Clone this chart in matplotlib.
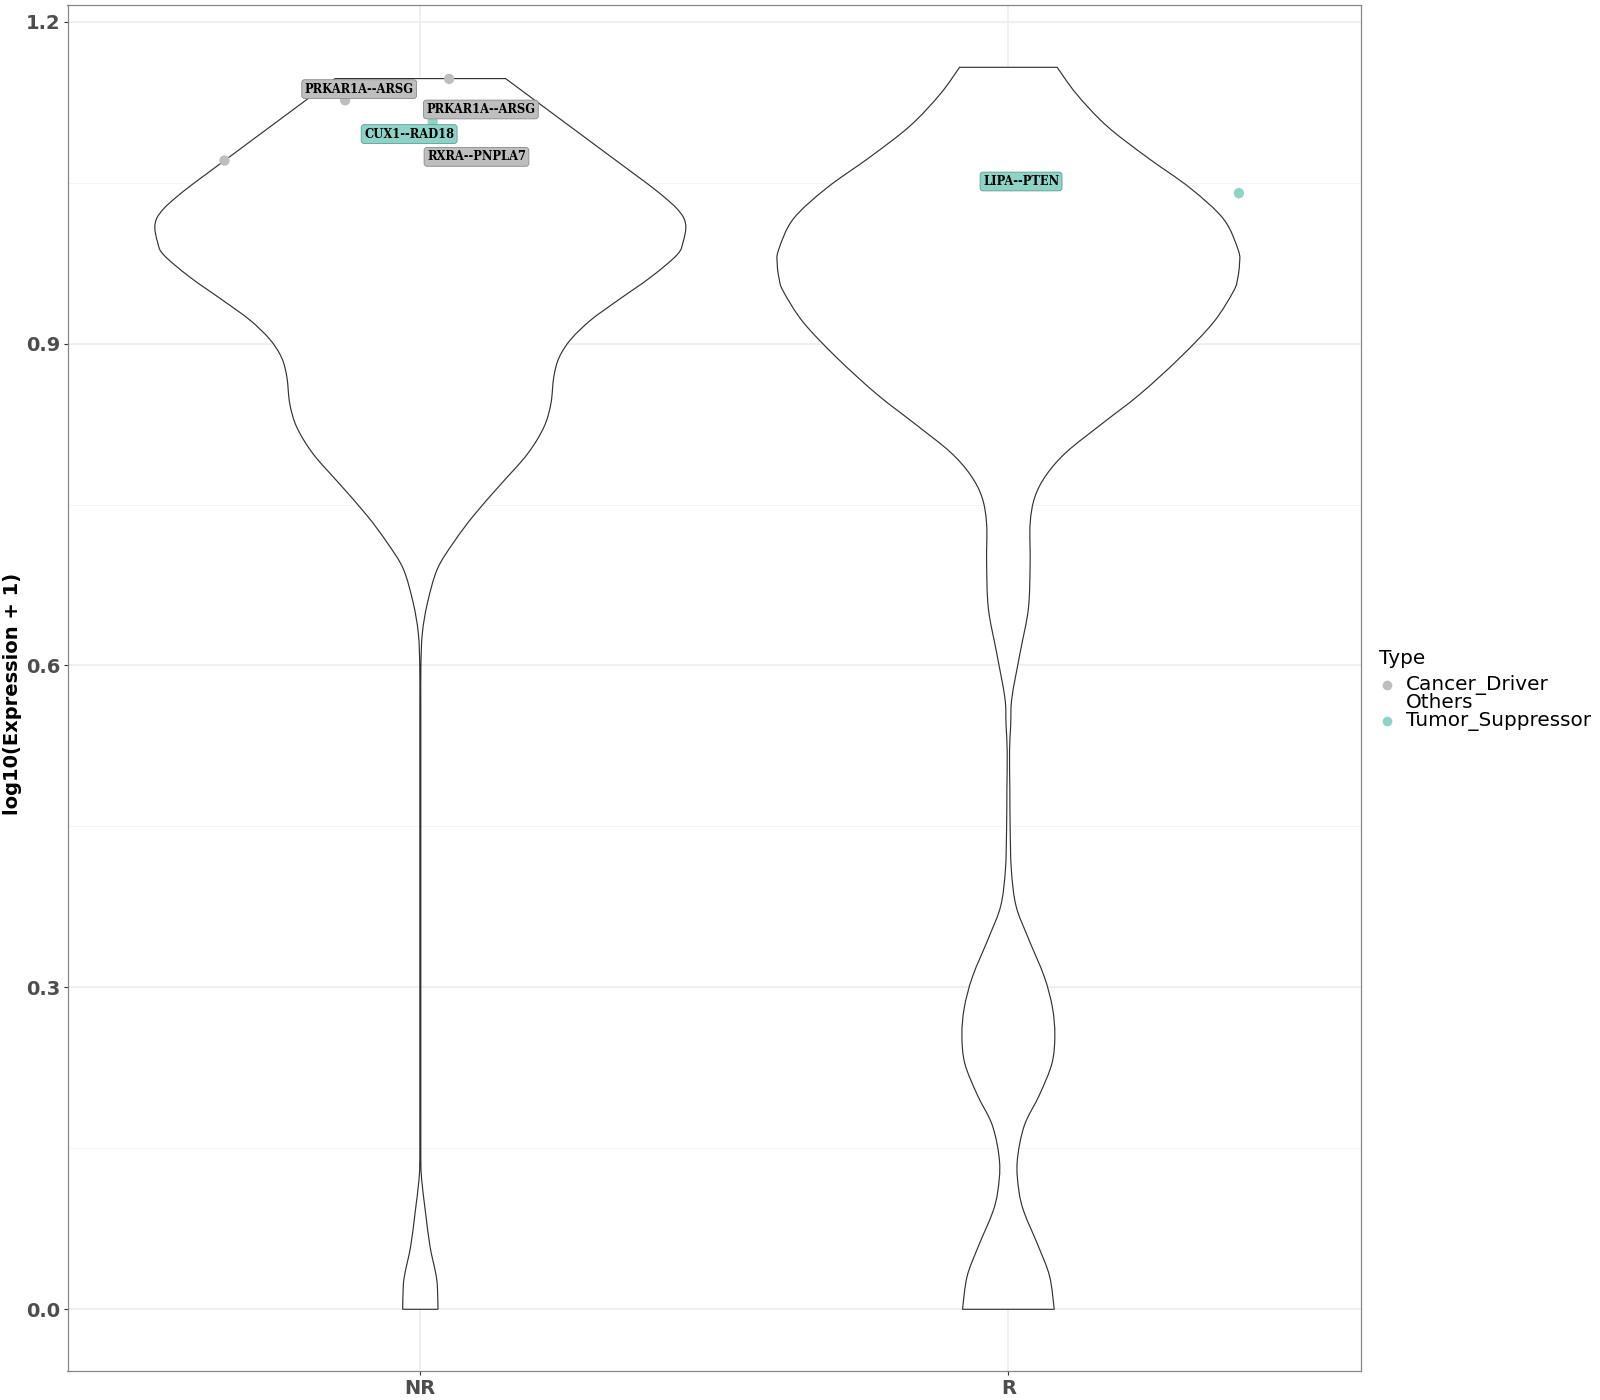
import numpy as np
import matplotlib
matplotlib.use("Agg")
import matplotlib.pyplot as plt
from matplotlib.lines import Line2D
from matplotlib.path import Path
from matplotlib.patches import PathPatch

# ---------------- data ----------------
groups = ["NR", "R"]
group_pos = [1, 2]

# violin outline profiles: (value, half-width)
nr_y = [0.000, 0.0215, 0.034, 0.0585, 0.0895, 0.1205, 0.136, 0.150, 0.200, 0.300,
        0.400, 0.500, 0.560, 0.600, 0.630, 0.658, 0.690, 0.715, 0.740, 0.769,
        0.797, 0.822, 0.844, 0.869, 0.887, 0.904, 0.922, 0.940, 0.962, 0.983,
        0.995, 1.008, 1.017, 1.026, 1.036, 1.047, 1.058, 1.071, 1.109, 1.147]
nr_w = [0.030, 0.029, 0.026, 0.0165, 0.009, 0.0023, 0.001, 0.0008, 0.0008, 0.0008,
        0.0008, 0.0008, 0.0008, 0.0010, 0.0034, 0.012, 0.029, 0.057, 0.091, 0.137,
        0.182, 0.210, 0.222, 0.227, 0.236, 0.256, 0.290, 0.335, 0.392, 0.437,
        0.447, 0.4515, 0.448, 0.436, 0.416, 0.391, 0.364, 0.332, 0.2385, 0.145]

r_y = [0.000, 0.031, 0.060, 0.090, 0.110, 0.1375, 0.171, 0.200, 0.229, 0.255,
       0.281, 0.310, 0.347, 0.376, 0.410, 0.450, 0.485, 0.520, 0.545, 0.570,
       0.612, 0.653, 0.695, 0.732, 0.757, 0.778, 0.799, 0.824, 0.853, 0.887,
       0.920, 0.949, 0.961, 0.974, 0.987, 1.016, 1.045, 1.074, 1.103, 1.1325, 1.1575]
r_w = [0.078, 0.070, 0.050, 0.027, 0.018, 0.015, 0.027, 0.053, 0.074, 0.079,
       0.075, 0.061, 0.033, 0.013, 0.005, 0.003, 0.0025, 0.002, 0.004, 0.006,
       0.020, 0.034, 0.037, 0.037, 0.045, 0.065, 0.099, 0.156, 0.224, 0.292,
       0.349, 0.383, 0.390, 0.393, 0.391, 0.366, 0.309, 0.235, 0.167, 0.116, 0.083]

# highlighted points (jittered x, value, type)
pt_x = [0.667, 0.872, 1.049, 1.021, 2.392]
pt_y = [1.0706, 1.1267, 1.1467, 1.1068, 1.0402]
pt_type = ["Cancer_Driver", "Cancer_Driver", "Cancer_Driver", "Tumor_Suppressor", "Tumor_Suppressor"]

# labels (repelled positions)
lab_text = ["PRKAR1A--ARSG", "PRKAR1A--ARSG", "CUX1--RAD18", "RXRA--PNPLA7", "LIPA--PTEN"]
lab_x = [0.896, 1.103, 0.981, 1.0955, 2.0216]
lab_y = [1.1372, 1.1182, 1.0953, 1.074, 1.0511]
lab_type = ["Cancer_Driver", "Cancer_Driver", "Tumor_Suppressor", "Cancer_Driver", "Tumor_Suppressor"]

legend_types = ["Cancer_Driver", "Others", "Tumor_Suppressor"]
y_ticks = [0.0, 0.3, 0.6, 0.9, 1.2]
y_ticklabels = ["0.0", "0.3", "0.6", "0.9", "1.2"]

colors = {"Cancer_Driver": "#BEBEBE", "Others": "none", "Tumor_Suppressor": "#8DD3C7"}
edge_colors = {"Cancer_Driver": "#8A8A8A", "Tumor_Suppressor": "#5E9C8F"}


def smooth_side(px, py):
    """Bezier (Catmull-Rom) path pieces through the given outline points."""
    pts = np.column_stack([px, py])
    verts, codes = [], []
    n = len(pts)
    for i in range(n - 1):
        p0 = pts[i - 1] if i > 0 else pts[i]
        p1 = pts[i]
        p2 = pts[i + 1]
        p3 = pts[i + 2] if i + 2 < n else pts[i + 1]
        c1 = p1 + (p2 - p0) / 6.0
        c2 = p2 - (p3 - p1) / 6.0
        verts += [c1, c2, p2]
        codes += [Path.CURVE4] * 3
    return verts, codes


# ---------------- figure ----------------
fig = plt.figure(figsize=(16, 14), dpi=100)
ax = fig.add_axes([67.5 / 1600, 1 - 1371.3 / 1400, (1361.2 - 67.5) / 1600, (1371.3 - 5.3) / 1400])

ax.set_xlim(0.4, 2.6)
ax.set_ylim(-0.0578, 1.2153)

# grid
for yv in np.arange(0, 1.21, 0.3):
    ax.axhline(yv, color="#EBEBEB", lw=1.1, zorder=0)
for yv in np.arange(0.15, 1.21, 0.3):
    ax.axhline(yv, color="#F2F2F2", lw=0.6, zorder=0)
for xv in group_pos:
    ax.axvline(xv, color="#EBEBEB", lw=1.1, zorder=0)

# violins (smooth outline through the read profile)
for pos, yy, ww in [(1, nr_y, nr_w), (2, r_y, r_w)]:
    yy = np.asarray(yy)
    ww = np.asarray(ww)
    lx, ly = pos - ww, yy
    rx, ry = (pos + ww)[::-1], yy[::-1]
    verts = [[lx[0], ly[0]]]
    codes = [Path.MOVETO]
    v, c = smooth_side(lx, ly)
    verts += v
    codes += c
    verts.append([rx[0], ry[0]])
    codes.append(Path.LINETO)
    v, c = smooth_side(rx, ry)
    verts += v
    codes += c
    verts.append([lx[0], ly[0]])
    codes.append(Path.CLOSEPOLY)
    patch = PathPatch(Path(np.array(verts), codes), facecolor="white",
                      edgecolor="#333333", lw=0.85, zorder=2)
    ax.add_patch(patch)

# points
for x, y, t in zip(pt_x, pt_y, pt_type):
    ax.scatter([x], [y], s=55, color=colors[t], edgecolors="none", zorder=3)

# labels
for x, y, s, t in zip(lab_x, lab_y, lab_text, lab_type):
    ax.text(x, y, s, ha="center", va="center", fontsize=8.3, fontweight="bold",
            family="DejaVu Serif", color="black", zorder=4,
            bbox=dict(boxstyle="round,pad=0.25,rounding_size=0.25",
                      facecolor=colors[t], edgecolor=edge_colors[t], lw=0.6))

# axes styling
ax.set_xticks(group_pos)
ax.set_xticklabels(groups)
ax.set_yticks(y_ticks)
ax.set_yticklabels(y_ticklabels)
ax.tick_params(axis="both", length=2.8, width=0.8, color="#333333", pad=2.5,
               labelsize=14, labelcolor="#4D4D4D")
for lab in ax.get_xticklabels() + ax.get_yticklabels():
    lab.set_fontweight("bold")
for sp in ax.spines.values():
    sp.set_color("#888888")
    sp.set_linewidth(0.9)
ax.set_ylabel("log10(Expression + 1)", fontsize=14, fontweight="bold")
ax.yaxis.set_label_coords((22.5 - 67.5) / 1293.7, 0.496)

# legend (manual)
fig.text(1378.6 / 1600, 1 - 658 / 1400, "Type", fontsize=14.4, va="center", ha="left")
ly_pos = [684.7, 703.0, 721.4]
for t, yp in zip(legend_types, ly_pos):
    if colors[t] != "none":
        fig.add_artist(Line2D([1386.7 / 1600], [1 - yp / 1400], marker="o", markersize=7,
                              color=colors[t], markeredgewidth=0, linestyle="none",
                              transform=fig.transFigure))
    fig.text(1406 / 1600, 1 - yp / 1400, t, fontsize=14.4, va="center", ha="left")

fig.savefig("out.png", dpi=100)
